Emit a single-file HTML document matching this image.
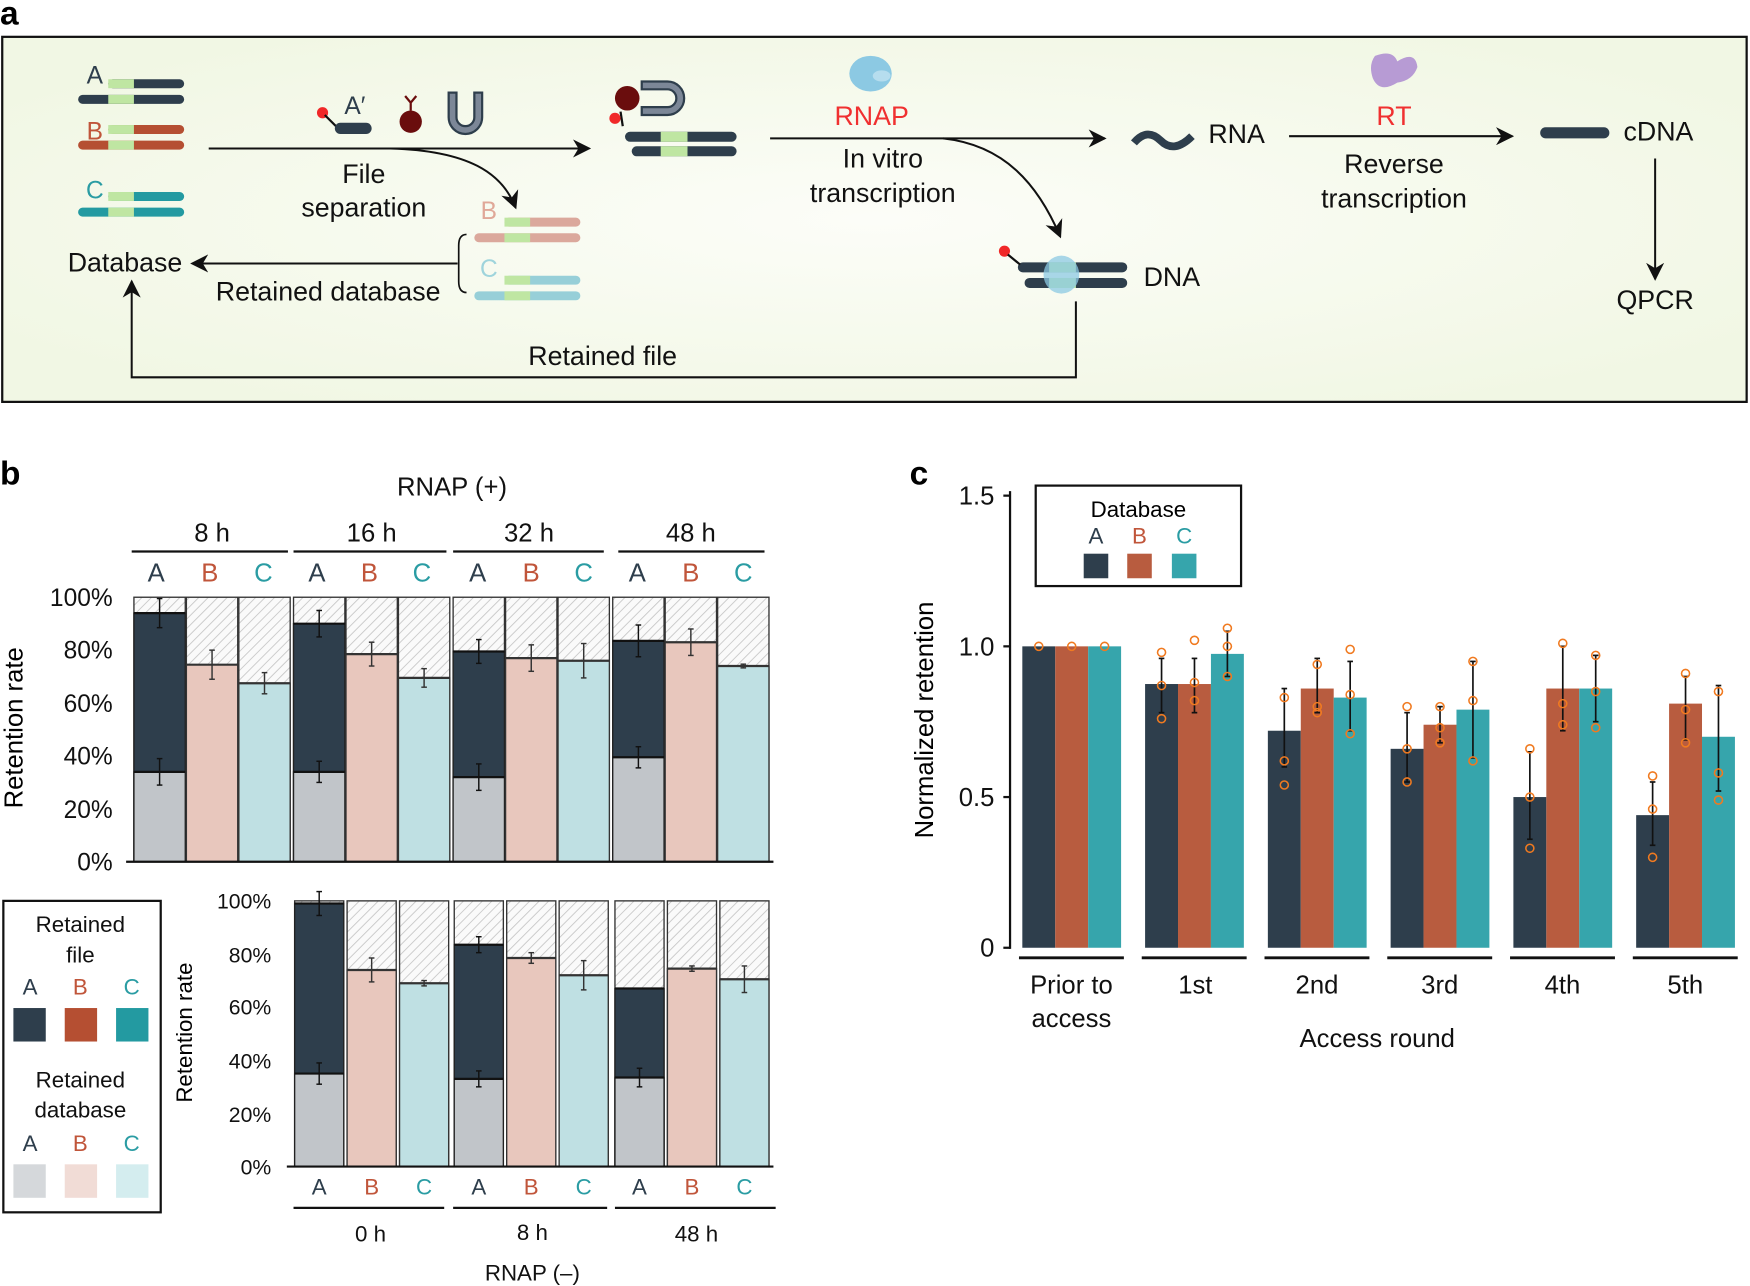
<!DOCTYPE html>
<html><head><meta charset="utf-8"><style>
html,body{margin:0;padding:0;background:#fff;}
svg{display:block;}
text{font-family:"Liberation Sans",Arial,sans-serif;}
</style></head><body>
<svg id="s" width="1750" height="1286" viewBox="0 0 1568 1152" preserveAspectRatio="none" xmlns="http://www.w3.org/2000/svg">
<defs>
<pattern id="h" width="6" height="6" patternUnits="userSpaceOnUse" patternTransform="rotate(45)">
<rect width="6" height="6" fill="#fafafa"/><line x1="0" y1="0" x2="0" y2="6" stroke="#c8c8c8" stroke-width="1.6"/></pattern>
<radialGradient id="bg" cx="50%" cy="50%" r="60%"><stop offset="0" stop-color="#fcfdf8"/><stop offset="1" stop-color="#f1f7e4"/></radialGradient>
<marker id="ar" viewBox="0 0 10 10" refX="9" refY="5" markerWidth="9" markerHeight="9" orient="auto"><path d="M0,0 L10,5 L0,10 L3,5 z" fill="#111"/></marker>
</defs>
<text x="0" y="22" font-size="30" font-weight="bold">a</text>
<rect x="2" y="33" width="1563" height="327" fill="url(#bg)" stroke="#111" stroke-width="2"/>
<g id="pa" font-size="24" fill="#111" text-anchor="middle">
<text x="85" y="75" fill="#2e3e4c" font-size="22">A</text>
<text x="85" y="125" fill="#c0553a" font-size="22">B</text>
<text x="85" y="178" fill="#2a9ca3" font-size="22">C</text>
<text x="318" y="102" font-size="22" fill="#2e3e4c">A′</text>
<text x="326" y="164">File</text><text x="326" y="194">separation</text>
<text x="438" y="196" fill="#e0a898" font-size="22">B</text>
<text x="438" y="248" fill="#9fd4dc" font-size="22">C</text>
<text x="112" y="243">Database</text>
<text x="294" y="269">Retained database</text>
<text x="540" y="327">Retained file</text>
<text x="781" y="112" fill="#f03030">RNAP</text>
<text x="791" y="150">In vitro</text><text x="791" y="181">transcription</text>
<text x="1108" y="128">RNA</text>
<text x="1249" y="112" fill="#f03030">RT</text>
<text x="1249" y="155">Reverse</text><text x="1249" y="186">transcription</text>
<text x="1486" y="126">cDNA</text>
<text x="1050" y="256">DNA</text>
<text x="1483" y="277">QPCR</text>
</g>
<g id="dyn"></g>
<text x="0" y="434" font-size="30" font-weight="bold">b</text>
<g font-size="23" text-anchor="middle" fill="#111">
<text x="405" y="444">RNAP (+)</text>
<text x="190" y="485">8 h</text><text x="333" y="485">16 h</text><text x="474" y="485">32 h</text><text x="619" y="485">48 h</text>
</g>
<g font-size="23" text-anchor="middle">
<text x="140" y="521" fill="#2e3e4c">A</text><text x="188" y="521" fill="#c0553a">B</text><text x="236" y="521" fill="#2a9ca3">C</text>
<text x="284" y="521" fill="#2e3e4c">A</text><text x="331" y="521" fill="#c0553a">B</text><text x="378" y="521" fill="#2a9ca3">C</text>
<text x="428" y="521" fill="#2e3e4c">A</text><text x="476" y="521" fill="#c0553a">B</text><text x="523" y="521" fill="#2a9ca3">C</text>
<text x="571" y="521" fill="#2e3e4c">A</text><text x="619" y="521" fill="#c0553a">B</text><text x="666" y="521" fill="#2a9ca3">C</text>
</g>
<g font-size="22" text-anchor="end" fill="#111">
<text x="101" y="543">100%</text><text x="101" y="590">80%</text><text x="101" y="638">60%</text><text x="101" y="685">40%</text><text x="101" y="733">20%</text><text x="101" y="780">0%</text>
</g>
<text transform="translate(20,652) rotate(-90)" font-size="23" text-anchor="middle">Retention rate</text>
<g font-size="19" text-anchor="end" fill="#111">
<text x="243" y="814">100%</text><text x="243" y="862">80%</text><text x="243" y="909">60%</text><text x="243" y="957">40%</text><text x="243" y="1005">20%</text><text x="243" y="1052">0%</text>
</g>
<text transform="translate(172,925) rotate(-90)" font-size="20" text-anchor="middle">Retention rate</text>
<g font-size="20" text-anchor="middle">
<text x="286" y="1070" fill="#2e3e4c">A</text><text x="333" y="1070" fill="#c0553a">B</text><text x="380" y="1070" fill="#2a9ca3">C</text>
<text x="429" y="1070" fill="#2e3e4c">A</text><text x="476" y="1070" fill="#c0553a">B</text><text x="523" y="1070" fill="#2a9ca3">C</text>
<text x="573" y="1070" fill="#2e3e4c">A</text><text x="620" y="1070" fill="#c0553a">B</text><text x="667" y="1070" fill="#2a9ca3">C</text>
</g>
<g font-size="20" text-anchor="middle" fill="#111">
<text x="332" y="1112">0 h</text><text x="477" y="1111">8 h</text><text x="624" y="1112">48 h</text>
<text x="477" y="1147">RNAP (–)</text>
</g>
<rect x="3" y="807" width="141" height="279" fill="#fff" stroke="#111" stroke-width="2"/>
<g font-size="20" text-anchor="middle" fill="#111">
<text x="72" y="835">Retained</text><text x="72" y="862">file</text>
<text x="72" y="974">Retained</text><text x="72" y="1001">database</text>
</g>
<g font-size="20" text-anchor="middle">
<text x="27" y="891" fill="#2e3e4c">A</text><text x="72" y="891" fill="#c0553a">B</text><text x="118" y="891" fill="#2a9ca3">C</text>
<text x="27" y="1031" fill="#2e3e4c">A</text><text x="72" y="1031" fill="#c0553a">B</text><text x="118" y="1031" fill="#2a9ca3">C</text>
</g>
<rect x="12" y="903" width="29" height="30" fill="#2e3e4c"/><rect x="58" y="903" width="29" height="30" fill="#b54f32"/><rect x="104" y="903" width="29" height="30" fill="#239aa1"/>
<rect x="12" y="1043" width="29" height="30" fill="#d5d8db"/><rect x="58" y="1043" width="29" height="30" fill="#f1dcd6"/><rect x="104" y="1043" width="29" height="30" fill="#d4edef"/>
<text x="815" y="434" font-size="30" font-weight="bold">c</text>
<g font-size="23" text-anchor="end" fill="#111">
<text x="891" y="452">1.5</text><text x="891" y="587">1.0</text><text x="891" y="722">0.5</text><text x="891" y="857">0</text>
</g>
<text transform="translate(836,645) rotate(-90)" font-size="23" text-anchor="middle">Normalized retention</text>
<g font-size="23" text-anchor="middle" fill="#111">
<text x="960" y="890">Prior to</text><text x="960" y="920">access</text>
<text x="1071" y="890">1st</text><text x="1180" y="890">2nd</text><text x="1290" y="890">3rd</text><text x="1400" y="890">4th</text><text x="1510" y="890">5th</text>
<text x="1234" y="938">Access round</text>
</g>
<rect x="928" y="435" width="184" height="90" fill="#fff" stroke="#111" stroke-width="2"/>
<text x="1020" y="463" font-size="20" text-anchor="middle">Database</text>
<g font-size="20" text-anchor="middle">
<text x="982" y="487" fill="#2e3e4c">A</text><text x="1021" y="487" fill="#c0553a">B</text><text x="1061" y="487" fill="#2a9ca3">C</text>
</g>
<rect x="971" y="496" width="22" height="22" fill="#2e3e4c"/><rect x="1010" y="496" width="22" height="22" fill="#b85c3f"/><rect x="1050" y="496" width="22" height="22" fill="#36a5ac"/>
</svg>
<script>
(function(){
var NS="http://www.w3.org/2000/svg",g=document.getElementById("dyn");
function el(t,a){var e=document.createElementNS(NS,t);for(var k in a)e.setAttribute(k,a[k]);g.appendChild(e);return e;}
function R(x,y,w,h,f,s,sw){return el("rect",{x:x,y:y,width:w,height:h,fill:f,stroke:s||"none","stroke-width":sw||0});}
function L(x1,y1,x2,y2,s,w){return el("line",{x1:x1,y1:y1,x2:x2,y2:y2,stroke:s||"#111","stroke-width":w||1.5});}
function err(x,y1,y2,c,w){L(x,y1,x,y2,c||"#222",w||1.3);L(x-2.5,y1,x+2.5,y1,c||"#222",w||1.3);L(x-2.5,y2,x+2.5,y2,c||"#222",w||1.3);}
function P(d,f,s,w){return el("path",{d:d,fill:f||"none",stroke:s||"none","stroke-width":w||0});}
function dsDNA(x0,y,c){el("rect",{x:x0+27,y:y,width:68,height:8,rx:4,fill:c});R(x0+27,y,23,8,"#bfe6a2");
el("rect",{x:x0,y:y+14,width:95,height:8,rx:4,fill:c});R(x0+27,y+14,23,8,"#bfe6a2");}
dsDNA(70,71,"#2e3e4c");dsDNA(70,112,"#b54f32");dsDNA(70,172,"#239aa1");
dsDNA(425,195,"#dba89c");dsDNA(425,247,"#97cfd8");
el("circle",{cx:289,cy:101,r:5,fill:"#f02828"});L(291,103,302,114,"#111",2);el("rect",{x:300,y:110,width:33,height:10,rx:5,fill:"#2e3e4c"});
el("circle",{cx:368,cy:109,r:10,fill:"#6a0d0d"});P("M368,99 L368,92 M368,92 L363,86 M368,92 L373,86","none","#6a0d0d",2);
P("M402,83 L402,105 A15,15 0 0 0 432,105 L432,83 L425,83 L425,105 A8,8 0 0 1 409,105 L409,83 Z","#7c8797","#2e3e4c",2);
el("rect",{x:560,y:118,width:100,height:9,rx:4.5,fill:"#2e3e4c"});R(592,118,24,9,"#bfe6a2");
el("rect",{x:566,y:131,width:94,height:9,rx:4.5,fill:"#2e3e4c"});R(592,131,24,9,"#bfe6a2");
P("M575,73 L598,73 A15,15 0 0 1 598,103 L575,103 L575,96 L598,96 A8,8 0 0 0 598,80 L575,80 Z","#7c8797","#2e3e4c",2);
el("circle",{cx:562,cy:88,r:11,fill:"#6a0d0d"});L(556,100,558,113,"#111",2);el("circle",{cx:551,cy:106,r:5,fill:"#f02828"});
L(187,133,528,133,"#111",1.8).setAttribute("marker-end","url(#ar)");
P("M350,133 C420,135 450,155 462,186","none","#111",1.8).setAttribute("marker-end","url(#ar)");
P("M418,210 Q411,210 411,220 L411,252 Q411,262 418,262","none","#111",1.5);
L(410,236,172,236,"#111",1.8).setAttribute("marker-end","url(#ar)");
P("M964,270 L964,338 L118,338 L118,252","none","#111",1.8).setAttribute("marker-end","url(#ar)");
L(690,124,990,124,"#111",1.8).setAttribute("marker-end","url(#ar)");
P("M845,124 C900,130 930,165 950,212","none","#111",1.8).setAttribute("marker-end","url(#ar)");
L(1155,122,1355,122,"#111",1.8).setAttribute("marker-end","url(#ar)");
L(1483,142,1483,250,"#111",1.8).setAttribute("marker-end","url(#ar)");
el("ellipse",{cx:780,cy:66,rx:19,ry:16,fill:"#8cc9e3"});el("ellipse",{cx:790,cy:68,rx:8,ry:5,fill:"#b6ddee"});
P("M1232,50 Q1248,44 1252,55 Q1268,45 1270,60 Q1266,72 1252,74 Q1236,84 1230,70 Q1226,58 1232,50Z","#b79bd4");
P("M1016,128 Q1028,114 1040,126 Q1052,138 1068,122","none","#2e3e4c",7);
el("rect",{x:1380,y:114,width:62,height:10,rx:5,fill:"#2e3e4c"});
el("rect",{x:912,y:235,width:98,height:9,rx:4.5,fill:"#2e3e4c"});el("rect",{x:918,y:249,width:92,height:9,rx:4.5,fill:"#2e3e4c"});
R(940,235,24,9,"#bfe6a2");R(940,249,24,9,"#bfe6a2");
el("ellipse",{cx:951,cy:246,rx:16,ry:17,fill:"#8cc9e3",opacity:0.75});
el("circle",{cx:900,cy:225,r:5,fill:"#f02828"});L(903,228,914,237,"#111",2);
var topX=[120,167,214,263,310,357,406,453,500,549,596,643];
var topD=[[34,94,5,5.5],[0,74.5,0,5.5],[0,67.5,0,4],[34,90,4,5],[0,78.5,0,4.5],[0,69.5,0,3.5],[32,79.5,5,4.5],[0,77,0,5],[0,76,0,6.5],[39.5,83.5,4,6],[0,83,0,5],[0,74,0,0.7]];
var fills=["#c1c5c9","#e8c7bd","#bfe0e3"];
function chart(xs,data,y0,sc,bw){
 function yv(v){return y0-v*sc;}
 for(var i=0;i<xs.length;i++){var x=xs[i],d=data[i],t=i%3;
  R(x,yv(100),bw,100*sc,"url(#h)","#333",1.2);
  if(t==0){R(x,yv(d[1]),bw,d[1]*sc,"#2e3e4c","#222",1.2);R(x,yv(d[0]),bw,d[0]*sc,fills[0],"#222",1.2);L(x,yv(d[0]),x+bw,yv(d[0]),"#111",2);L(x,yv(d[1]),x+bw,yv(d[1]),"#111",2);
   err(x+bw/2,yv(d[0]-d[2]),yv(d[0]+d[2]),"#111");if(d[3]>0)err(x+bw/2,yv(d[1]-d[3]),yv(d[1]+d[3]),"#111");}
  else{R(x,yv(d[1]),bw,d[1]*sc,fills[t],"#333",1.2);L(x,yv(d[1]),x+bw,yv(d[1]),"#333",2);err(x+bw/2,yv(d[1]-d[3]),yv(d[1]+d[3]),"#333");}
 }}
chart(topX,topD,772,2.37,46);
L(113,772,693,772,"#111",2);
[[118,258],[263,400],[406,541],[554,685]].forEach(function(a){L(a[0],494,a[1],494,"#111",2);});
var botX=[264,311,358,407,454,501,551,598,645];
var botD=[[35,99,4,4.5],[0,74,0,4.5],[0,69,0,1],[33,83.5,3,3],[0,78.5,0,2],[0,72,0,5.5],[33.5,67,3.5,0],[0,74.5,0,1],[0,70.5,0,5]];
chart(botX,botD,1045,2.38,44);
L(257,1045,693,1045,"#111",2);
[[263,398],[406,544],[551,695]].forEach(function(a){L(a[0],1082,a[1],1082,"#111",2);});
function cy(v){return 849-v*270;}
var cc=["#2e3e4c","#b85c3f","#36a5ac"];
var vals=[[1,1,1],[.875,.875,.975],[.72,.86,.83],[.66,.74,.79],[.50,.86,.86],[.44,.81,.70]];
var er=[[[1,1],[1,1],[1,1]],[[.78,.96],[.78,.96],[.90,1.05]],[[.60,.86],[.78,.96],[.72,.95]],[[.55,.78],[.68,.80],[.63,.95]],[[.36,.65],[.72,1.0],[.75,.97]],[[.34,.55],[.69,.90],[.52,.87]]];
var pts=[[[1],[1],[1]],[[.98,.87,.76],[1.02,.88,.82],[1.06,1.0,.9]],[[.83,.62,.54],[.94,.8,.78],[.99,.84,.71]],[[.8,.66,.55],[.8,.73,.68],[.95,.82,.62]],[[.66,.5,.33],[1.01,.81,.74],[.97,.85,.73]],[[.57,.46,.3],[.91,.79,.68],[.85,.58,.49]]];
for(var gi=0;gi<6;gi++){var gx=916+gi*110;
 for(var b=0;b<3;b++){R(gx+b*29.5,cy(vals[gi][b]),29.5,vals[gi][b]*270,cc[b]);}
 for(var b2=0;b2<3;b2++){var cx=gx+b2*29.5+14.75;if(gi>0)err(cx,cy(er[gi][b2][0]),cy(er[gi][b2][1]),"#111",1.5);
  for(var p=0;p<pts[gi][b2].length;p++){el("circle",{cx:cx,cy:cy(pts[gi][b2][p]),r:3.6,fill:"none",stroke:"#f07a20","stroke-width":1.4});}}
 L(gx-3,858,gx+91,858,"#111",2.5);}
L(905,440,905,850,"#111",2);
[444,579,714,849].forEach(function(y){L(899,y,905,y,"#111",2);});
})();
</script>
</body></html>
